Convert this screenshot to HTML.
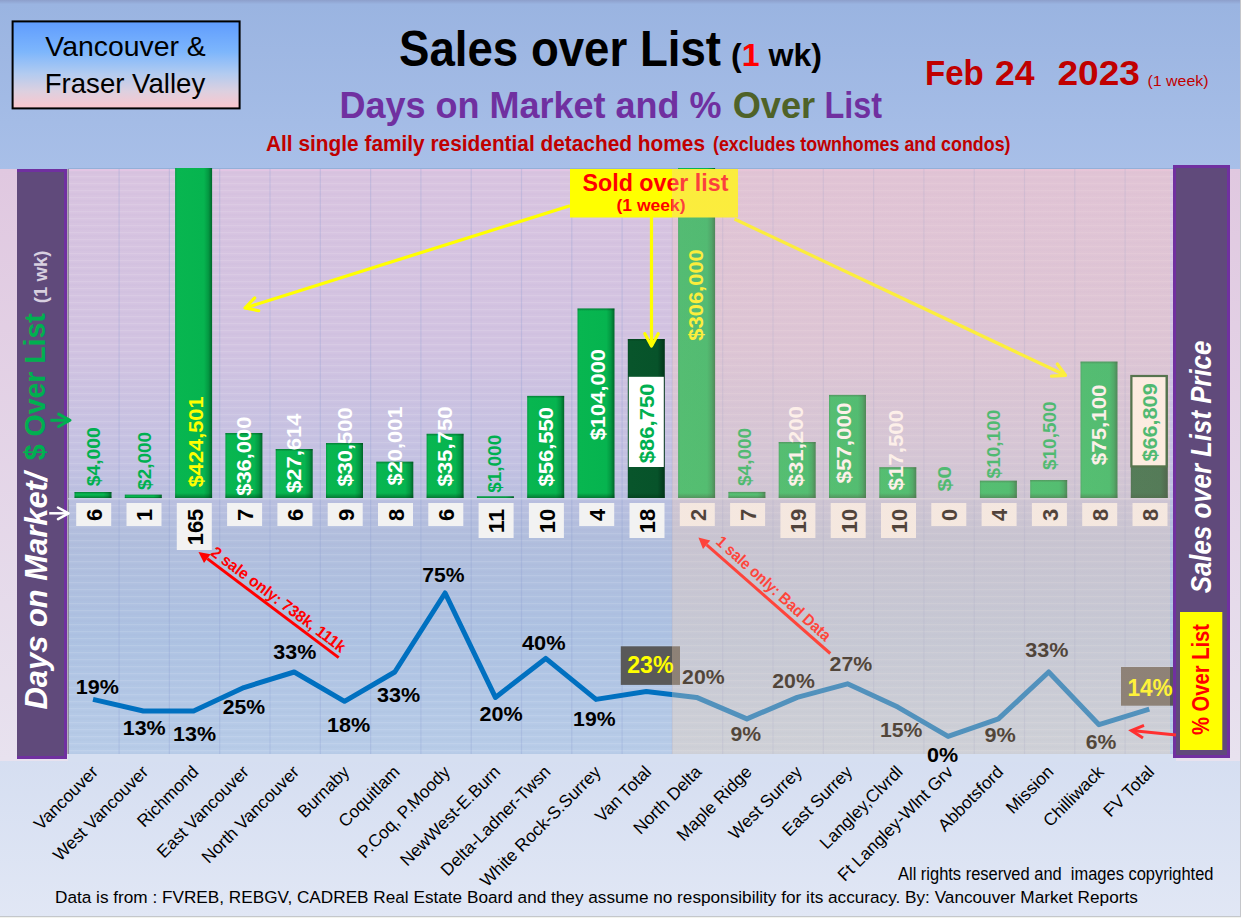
<!DOCTYPE html><html><head><meta charset="utf-8"><style>html,body{margin:0;padding:0;background:#d9e1f2;}svg{display:block;}text{font-family:"Liberation Sans",sans-serif;}</style></head><body>
<svg width="1241" height="918" viewBox="0 0 1241 918">
<defs>
<linearGradient id="hdr" x1="0" y1="0" x2="0" y2="1"><stop offset="0" stop-color="#8d9fcb"/><stop offset="0.025" stop-color="#9ab4e1"/><stop offset="1" stop-color="#a8bfe8"/></linearGradient>
<linearGradient id="box" x1="0" y1="0" x2="0" y2="1"><stop offset="0" stop-color="#5f9cfe"/><stop offset="0.35" stop-color="#7db6fc"/><stop offset="0.6" stop-color="#b2cbf0"/><stop offset="0.8" stop-color="#dcd0e0"/><stop offset="1" stop-color="#fcc6cc"/></linearGradient>
<linearGradient id="plot" x1="0" y1="0" x2="0" y2="1"><stop offset="0" stop-color="#d9c4e0"/><stop offset="0.3" stop-color="#d2c3e1"/><stop offset="0.5" stop-color="#c4c2e2"/><stop offset="0.63" stop-color="#b1bedd"/><stop offset="0.8" stop-color="#adc2e2"/><stop offset="1" stop-color="#b8cce8"/></linearGradient>
<linearGradient id="ovl" x1="0" y1="0" x2="0" y2="1"><stop offset="0" stop-color="rgb(242,196,190)"/><stop offset="1" stop-color="rgb(255,218,180)"/></linearGradient>
<linearGradient id="botg" x1="0" y1="0" x2="0" y2="1"><stop offset="0" stop-color="#d5def1"/><stop offset="1" stop-color="#e1e7f5"/></linearGradient>
<linearGradient id="outer" x1="0" y1="0" x2="0" y2="1"><stop offset="0" stop-color="#e0c8e0"/><stop offset="1" stop-color="#e8e2ef"/></linearGradient>
<linearGradient id="barg" x1="0" y1="0" x2="1" y2="0"><stop offset="0" stop-color="#069c44"/><stop offset="0.05" stop-color="#08b650"/><stop offset="0.78" stop-color="#06b44f"/><stop offset="0.9" stop-color="#049842"/><stop offset="1" stop-color="#00662a"/></linearGradient>
<linearGradient id="bardk" x1="0" y1="0" x2="1" y2="0"><stop offset="0" stop-color="#064a24"/><stop offset="0.05" stop-color="#08552b"/><stop offset="0.8" stop-color="#07532a"/><stop offset="1" stop-color="#02351a"/></linearGradient>
<linearGradient id="shb" x1="0" y1="0" x2="0" y2="1"><stop offset="0" stop-color="#003010" stop-opacity="0"/><stop offset="1" stop-color="#003010" stop-opacity="0.45"/></linearGradient>
<linearGradient id="sht" x1="0" y1="0" x2="0" y2="1"><stop offset="0" stop-color="#003010" stop-opacity="0.4"/><stop offset="1" stop-color="#003010" stop-opacity="0"/></linearGradient>
<pattern id="stripes" x="0" y="169" width="8" height="7" patternUnits="userSpaceOnUse"><rect x="0" y="0" width="8" height="1.2" fill="#ffffff" fill-opacity="0.11"/><rect x="0" y="3.5" width="8" height="1" fill="#604080" fill-opacity="0.04"/></pattern>
</defs>
<rect x="0" y="0" width="1241" height="918" fill="#d9e1f2"/>
<rect x="0" y="754" width="1241" height="164" fill="url(#botg)"/>
<rect x="0" y="168" width="1241" height="593" fill="url(#outer)"/>
<rect x="0" y="0" width="1241" height="169" fill="url(#hdr)"/>
<rect x="68" y="169" width="1108" height="585" fill="url(#plot)"/>
<rect x="68" y="169" width="1108" height="585" fill="url(#stripes)"/>
<rect x="68" y="168" width="1108" height="1" fill="#94b0d8"/>
<rect x="68" y="169.4" width="1108" height="1.4" fill="#e8c6e6" fill-opacity="0.8"/>
<rect x="118.5" y="169" width="1.2" height="585" fill="#8a9ad0" fill-opacity="0.28"/>
<rect x="168.8" y="169" width="1.2" height="585" fill="#8a9ad0" fill-opacity="0.28"/>
<rect x="219.1" y="169" width="1.2" height="585" fill="#8a9ad0" fill-opacity="0.28"/>
<rect x="269.4" y="169" width="1.2" height="585" fill="#8a9ad0" fill-opacity="0.28"/>
<rect x="319.7" y="169" width="1.2" height="585" fill="#8a9ad0" fill-opacity="0.28"/>
<rect x="370.0" y="169" width="1.2" height="585" fill="#8a9ad0" fill-opacity="0.28"/>
<rect x="420.3" y="169" width="1.2" height="585" fill="#8a9ad0" fill-opacity="0.28"/>
<rect x="470.6" y="169" width="1.2" height="585" fill="#8a9ad0" fill-opacity="0.28"/>
<rect x="520.9" y="169" width="1.2" height="585" fill="#8a9ad0" fill-opacity="0.28"/>
<rect x="571.2" y="169" width="1.2" height="585" fill="#8a9ad0" fill-opacity="0.28"/>
<rect x="621.5" y="169" width="1.2" height="585" fill="#8a9ad0" fill-opacity="0.28"/>
<rect x="671.8" y="169" width="1.2" height="585" fill="#8a9ad0" fill-opacity="0.28"/>
<rect x="722.1" y="169" width="1.2" height="585" fill="#8a9ad0" fill-opacity="0.28"/>
<rect x="772.4" y="169" width="1.2" height="585" fill="#8a9ad0" fill-opacity="0.28"/>
<rect x="822.7" y="169" width="1.2" height="585" fill="#8a9ad0" fill-opacity="0.28"/>
<rect x="873.0" y="169" width="1.2" height="585" fill="#8a9ad0" fill-opacity="0.28"/>
<rect x="923.3" y="169" width="1.2" height="585" fill="#8a9ad0" fill-opacity="0.28"/>
<rect x="973.6" y="169" width="1.2" height="585" fill="#8a9ad0" fill-opacity="0.28"/>
<rect x="1023.9" y="169" width="1.2" height="585" fill="#8a9ad0" fill-opacity="0.28"/>
<rect x="1074.2" y="169" width="1.2" height="585" fill="#8a9ad0" fill-opacity="0.28"/>
<rect x="1124.5" y="169" width="1.2" height="585" fill="#8a9ad0" fill-opacity="0.28"/>
<rect x="67.5" y="169" width="1.3" height="585" fill="#7f7f8a"/>
<rect x="68" y="498.0" width="1108" height="1.5" fill="#d0d4e8" fill-opacity="0.7"/>
<rect x="74.5" y="492" width="37" height="6.0" fill="url(#barg)"/>
<rect x="74.5" y="492" width="37" height="2.0" fill="url(#sht)"/>
<rect x="74.5" y="495.0" width="37" height="3.0" fill="url(#shb)"/>
<rect x="124.8" y="494.7" width="37" height="3.3" fill="url(#barg)"/>
<rect x="124.8" y="494.7" width="37" height="1.1" fill="url(#sht)"/>
<rect x="124.8" y="496.4" width="37" height="1.7" fill="url(#shb)"/>
<rect x="175.1" y="168" width="37" height="330.0" fill="url(#barg)"/>
<rect x="175.1" y="493.0" width="37" height="5.0" fill="url(#shb)"/>
<rect x="225.4" y="433" width="37" height="65.0" fill="url(#barg)"/>
<rect x="225.4" y="433" width="37" height="2.5" fill="url(#sht)"/>
<rect x="225.4" y="493.0" width="37" height="5.0" fill="url(#shb)"/>
<rect x="275.7" y="449" width="37" height="49.0" fill="url(#barg)"/>
<rect x="275.7" y="449" width="37" height="2.5" fill="url(#sht)"/>
<rect x="275.7" y="493.0" width="37" height="5.0" fill="url(#shb)"/>
<rect x="326.0" y="443" width="37" height="55.0" fill="url(#barg)"/>
<rect x="326.0" y="443" width="37" height="2.5" fill="url(#sht)"/>
<rect x="326.0" y="493.0" width="37" height="5.0" fill="url(#shb)"/>
<rect x="376.3" y="461.7" width="37" height="36.3" fill="url(#barg)"/>
<rect x="376.3" y="461.7" width="37" height="2.5" fill="url(#sht)"/>
<rect x="376.3" y="493.0" width="37" height="5.0" fill="url(#shb)"/>
<rect x="426.6" y="433.8" width="37" height="64.2" fill="url(#barg)"/>
<rect x="426.6" y="433.8" width="37" height="2.5" fill="url(#sht)"/>
<rect x="426.6" y="493.0" width="37" height="5.0" fill="url(#shb)"/>
<rect x="476.9" y="496.3" width="37" height="1.7" fill="url(#barg)"/>
<rect x="476.9" y="496.3" width="37" height="0.6" fill="url(#sht)"/>
<rect x="476.9" y="497.1" width="37" height="0.8" fill="url(#shb)"/>
<rect x="527.2" y="395.9" width="37" height="102.1" fill="url(#barg)"/>
<rect x="527.2" y="395.9" width="37" height="2.5" fill="url(#sht)"/>
<rect x="527.2" y="493.0" width="37" height="5.0" fill="url(#shb)"/>
<rect x="577.5" y="308.5" width="37" height="189.5" fill="url(#barg)"/>
<rect x="577.5" y="308.5" width="37" height="2.5" fill="url(#sht)"/>
<rect x="577.5" y="493.0" width="37" height="5.0" fill="url(#shb)"/>
<rect x="627.8" y="339" width="37" height="159.0" fill="url(#bardk)"/>
<rect x="627.8" y="339" width="37" height="2.5" fill="url(#sht)"/>
<rect x="627.8" y="493.0" width="37" height="5.0" fill="url(#shb)"/>
<rect x="678.1" y="168" width="37" height="330.0" fill="url(#barg)"/>
<rect x="678.1" y="493.0" width="37" height="5.0" fill="url(#shb)"/>
<rect x="728.4" y="491.9" width="37" height="6.1" fill="url(#barg)"/>
<rect x="728.4" y="491.9" width="37" height="2.0" fill="url(#sht)"/>
<rect x="728.4" y="494.9" width="37" height="3.1" fill="url(#shb)"/>
<rect x="778.7" y="442" width="37" height="56.0" fill="url(#barg)"/>
<rect x="778.7" y="442" width="37" height="2.5" fill="url(#sht)"/>
<rect x="778.7" y="493.0" width="37" height="5.0" fill="url(#shb)"/>
<rect x="829.0" y="394.9" width="37" height="103.1" fill="url(#barg)"/>
<rect x="829.0" y="394.9" width="37" height="2.5" fill="url(#sht)"/>
<rect x="829.0" y="493.0" width="37" height="5.0" fill="url(#shb)"/>
<rect x="879.3" y="467.2" width="37" height="30.8" fill="url(#barg)"/>
<rect x="879.3" y="467.2" width="37" height="2.5" fill="url(#sht)"/>
<rect x="879.3" y="493.0" width="37" height="5.0" fill="url(#shb)"/>
<rect x="979.9" y="480.7" width="37" height="17.3" fill="url(#barg)"/>
<rect x="979.9" y="480.7" width="37" height="2.5" fill="url(#sht)"/>
<rect x="979.9" y="493.0" width="37" height="5.0" fill="url(#shb)"/>
<rect x="1030.2" y="480" width="37" height="18.0" fill="url(#barg)"/>
<rect x="1030.2" y="480" width="37" height="2.5" fill="url(#sht)"/>
<rect x="1030.2" y="493.0" width="37" height="5.0" fill="url(#shb)"/>
<rect x="1080.5" y="361.6" width="37" height="136.4" fill="url(#barg)"/>
<rect x="1080.5" y="361.6" width="37" height="2.5" fill="url(#sht)"/>
<rect x="1080.5" y="493.0" width="37" height="5.0" fill="url(#shb)"/>
<rect x="1130.8" y="375.2" width="37" height="122.8" fill="url(#bardk)"/>
<rect x="1130.8" y="375.2" width="37" height="2.5" fill="url(#sht)"/>
<rect x="1130.8" y="493.0" width="37" height="5.0" fill="url(#shb)"/>
<rect x="628.8" y="376.8" width="35" height="90.2" fill="#ffffff"/>
<rect x="1131.4" y="376" width="35.2" height="90.4" fill="#fffaf2" stroke="#0a4a1a" stroke-width="2.2"/>
<text transform="translate(99.7,486.2) rotate(-90)" font-size="18.8" font-weight="bold" font-style="normal" fill="#00b050" textLength="58.9" lengthAdjust="spacingAndGlyphs">$4,000</text>
<text transform="translate(150.8,489.9) rotate(-90)" font-size="18.8" font-weight="bold" font-style="normal" fill="#00b050" textLength="57.9" lengthAdjust="spacingAndGlyphs">$2,000</text>
<text transform="translate(202.6,487.3) rotate(-90)" font-size="20.3" font-weight="bold" font-style="normal" fill="#ffff00" textLength="90.8" lengthAdjust="spacingAndGlyphs">$424,501</text>
<text transform="translate(251.1,495.8) rotate(-90)" font-size="20.3" font-weight="bold" font-style="normal" fill="#ffffff" textLength="79.2" lengthAdjust="spacingAndGlyphs">$36,000</text>
<text transform="translate(301.3,493.0) rotate(-90)" font-size="20.3" font-weight="bold" font-style="normal" fill="#ffffff" textLength="79.5" lengthAdjust="spacingAndGlyphs">$27,614</text>
<text transform="translate(351.7,486.6) rotate(-90)" font-size="20.3" font-weight="bold" font-style="normal" fill="#ffffff" textLength="79.2" lengthAdjust="spacingAndGlyphs">$30,500</text>
<text transform="translate(402.0,485.5) rotate(-90)" font-size="20.3" font-weight="bold" font-style="normal" fill="#ffffff" textLength="79.1" lengthAdjust="spacingAndGlyphs">$20,001</text>
<text transform="translate(452.4,486.6) rotate(-90)" font-size="20.3" font-weight="bold" font-style="normal" fill="#ffffff" textLength="80.2" lengthAdjust="spacingAndGlyphs">$35,750</text>
<text transform="translate(501.3,492.8) rotate(-90)" font-size="18.8" font-weight="bold" font-style="normal" fill="#00b050" textLength="58.0" lengthAdjust="spacingAndGlyphs">$1,000</text>
<text transform="translate(553.1,486.6) rotate(-90)" font-size="20.3" font-weight="bold" font-style="normal" fill="#ffffff" textLength="79.6" lengthAdjust="spacingAndGlyphs">$56,550</text>
<text transform="translate(605.0,440.3) rotate(-90)" font-size="20.3" font-weight="bold" font-style="normal" fill="#ffffff" textLength="91.3" lengthAdjust="spacingAndGlyphs">$104,000</text>
<text transform="translate(653.8,463.2) rotate(-90)" font-size="20.3" font-weight="bold" font-style="normal" fill="#00b050" textLength="79.7" lengthAdjust="spacingAndGlyphs">$86,750</text>
<text transform="translate(703.4,340.7) rotate(-90)" font-size="20.3" font-weight="bold" font-style="normal" fill="#ffff00" textLength="91.5" lengthAdjust="spacingAndGlyphs">$306,000</text>
<text transform="translate(751.2,486.0) rotate(-90)" font-size="18.8" font-weight="bold" font-style="normal" fill="#00b050" textLength="58.1" lengthAdjust="spacingAndGlyphs">$4,000</text>
<text transform="translate(802.9,486.5) rotate(-90)" font-size="20.3" font-weight="bold" font-style="normal" fill="#ffffff" textLength="80.5" lengthAdjust="spacingAndGlyphs">$31,200</text>
<text transform="translate(851.4,483.4) rotate(-90)" font-size="20.3" font-weight="bold" font-style="normal" fill="#ffffff" textLength="80.7" lengthAdjust="spacingAndGlyphs">$57,000</text>
<text transform="translate(903.2,490.4) rotate(-90)" font-size="20.3" font-weight="bold" font-style="normal" fill="#ffffff" textLength="80.5" lengthAdjust="spacingAndGlyphs">$17,500</text>
<text transform="translate(951.2,491.5) rotate(-90)" font-size="18.8" font-weight="bold" font-style="normal" fill="#00b050" textLength="25.5" lengthAdjust="spacingAndGlyphs">$0</text>
<text transform="translate(1000.4,478.4) rotate(-90)" font-size="18.8" font-weight="bold" font-style="normal" fill="#00b050" textLength="68.6" lengthAdjust="spacingAndGlyphs">$10,100</text>
<text transform="translate(1056.1,470.0) rotate(-90)" font-size="18.8" font-weight="bold" font-style="normal" fill="#00b050" textLength="68.6" lengthAdjust="spacingAndGlyphs">$10,500</text>
<text transform="translate(1105.7,465.2) rotate(-90)" font-size="20.3" font-weight="bold" font-style="normal" fill="#ffffff" textLength="80.7" lengthAdjust="spacingAndGlyphs">$75,100</text>
<text transform="translate(1157.0,461.6) rotate(-90)" font-size="20.3" font-weight="bold" font-style="normal" fill="#00b050" textLength="78.3" lengthAdjust="spacingAndGlyphs">$66,809</text>
<rect x="76.2" y="503" width="35" height="23" fill="#f2f2f2"/>
<text transform="translate(102.0,521.1) rotate(-90)" font-size="21.2" font-weight="bold" font-style="normal" fill="#000000" textLength="12.2" lengthAdjust="spacingAndGlyphs">6</text>
<rect x="126.5" y="503" width="35" height="23" fill="#f2f2f2"/>
<text transform="translate(152.3,521.1) rotate(-90)" font-size="21.2" font-weight="bold" font-style="normal" fill="#000000" textLength="12.2" lengthAdjust="spacingAndGlyphs">1</text>
<rect x="176.8" y="503" width="35" height="47" fill="#f2f2f2"/>
<text transform="translate(202.6,545.3) rotate(-90)" font-size="21.2" font-weight="bold" font-style="normal" fill="#000000" textLength="36.6" lengthAdjust="spacingAndGlyphs">165</text>
<rect x="227.1" y="503" width="35" height="23" fill="#f2f2f2"/>
<text transform="translate(252.9,521.1) rotate(-90)" font-size="21.2" font-weight="bold" font-style="normal" fill="#000000" textLength="12.2" lengthAdjust="spacingAndGlyphs">7</text>
<rect x="277.4" y="503" width="35" height="23" fill="#f2f2f2"/>
<text transform="translate(303.2,521.1) rotate(-90)" font-size="21.2" font-weight="bold" font-style="normal" fill="#000000" textLength="12.2" lengthAdjust="spacingAndGlyphs">6</text>
<rect x="327.7" y="503" width="35" height="23" fill="#f2f2f2"/>
<text transform="translate(353.5,521.1) rotate(-90)" font-size="21.2" font-weight="bold" font-style="normal" fill="#000000" textLength="12.2" lengthAdjust="spacingAndGlyphs">9</text>
<rect x="378.0" y="503" width="35" height="23" fill="#f2f2f2"/>
<text transform="translate(403.8,521.1) rotate(-90)" font-size="21.2" font-weight="bold" font-style="normal" fill="#000000" textLength="12.2" lengthAdjust="spacingAndGlyphs">8</text>
<rect x="428.3" y="503" width="35" height="23" fill="#f2f2f2"/>
<text transform="translate(454.1,521.1) rotate(-90)" font-size="21.2" font-weight="bold" font-style="normal" fill="#000000" textLength="12.2" lengthAdjust="spacingAndGlyphs">6</text>
<rect x="478.6" y="503" width="35" height="35" fill="#f2f2f2"/>
<text transform="translate(504.4,533.2) rotate(-90)" font-size="21.2" font-weight="bold" font-style="normal" fill="#000000" textLength="24.4" lengthAdjust="spacingAndGlyphs">11</text>
<rect x="528.9" y="503" width="35" height="35" fill="#f2f2f2"/>
<text transform="translate(554.7,533.2) rotate(-90)" font-size="21.2" font-weight="bold" font-style="normal" fill="#000000" textLength="24.4" lengthAdjust="spacingAndGlyphs">10</text>
<rect x="579.2" y="503" width="35" height="23" fill="#f2f2f2"/>
<text transform="translate(605.0,521.1) rotate(-90)" font-size="21.2" font-weight="bold" font-style="normal" fill="#000000" textLength="12.2" lengthAdjust="spacingAndGlyphs">4</text>
<rect x="629.5" y="503" width="35" height="35" fill="#f2f2f2"/>
<text transform="translate(655.3,533.2) rotate(-90)" font-size="21.2" font-weight="bold" font-style="normal" fill="#000000" textLength="24.4" lengthAdjust="spacingAndGlyphs">18</text>
<rect x="679.8" y="503" width="35" height="23" fill="#f2f2f2"/>
<text transform="translate(705.6,521.1) rotate(-90)" font-size="21.2" font-weight="bold" font-style="normal" fill="#000000" textLength="12.2" lengthAdjust="spacingAndGlyphs">2</text>
<rect x="730.1" y="503" width="35" height="23" fill="#f2f2f2"/>
<text transform="translate(755.9,521.1) rotate(-90)" font-size="21.2" font-weight="bold" font-style="normal" fill="#000000" textLength="12.2" lengthAdjust="spacingAndGlyphs">7</text>
<rect x="780.4" y="503" width="35" height="35" fill="#f2f2f2"/>
<text transform="translate(806.2,533.2) rotate(-90)" font-size="21.2" font-weight="bold" font-style="normal" fill="#000000" textLength="24.4" lengthAdjust="spacingAndGlyphs">19</text>
<rect x="830.7" y="503" width="35" height="35" fill="#f2f2f2"/>
<text transform="translate(856.5,533.2) rotate(-90)" font-size="21.2" font-weight="bold" font-style="normal" fill="#000000" textLength="24.4" lengthAdjust="spacingAndGlyphs">10</text>
<rect x="881.0" y="503" width="35" height="35" fill="#f2f2f2"/>
<text transform="translate(906.8,533.2) rotate(-90)" font-size="21.2" font-weight="bold" font-style="normal" fill="#000000" textLength="24.4" lengthAdjust="spacingAndGlyphs">10</text>
<rect x="931.3" y="503" width="35" height="23" fill="#f2f2f2"/>
<text transform="translate(957.1,521.1) rotate(-90)" font-size="21.2" font-weight="bold" font-style="normal" fill="#000000" textLength="12.2" lengthAdjust="spacingAndGlyphs">0</text>
<rect x="981.6" y="503" width="35" height="23" fill="#f2f2f2"/>
<text transform="translate(1007.4,521.1) rotate(-90)" font-size="21.2" font-weight="bold" font-style="normal" fill="#000000" textLength="12.2" lengthAdjust="spacingAndGlyphs">4</text>
<rect x="1031.9" y="503" width="35" height="23" fill="#f2f2f2"/>
<text transform="translate(1057.7,521.1) rotate(-90)" font-size="21.2" font-weight="bold" font-style="normal" fill="#000000" textLength="12.2" lengthAdjust="spacingAndGlyphs">3</text>
<rect x="1082.2" y="503" width="35" height="23" fill="#f2f2f2"/>
<text transform="translate(1108.0,521.1) rotate(-90)" font-size="21.2" font-weight="bold" font-style="normal" fill="#000000" textLength="12.2" lengthAdjust="spacingAndGlyphs">8</text>
<rect x="1132.5" y="503" width="35" height="23" fill="#f2f2f2"/>
<text transform="translate(1158.3,521.1) rotate(-90)" font-size="21.2" font-weight="bold" font-style="normal" fill="#000000" textLength="12.2" lengthAdjust="spacingAndGlyphs">8</text>
<polyline points="93.0,699.4 143.3,711.0 193.6,711.0 243.9,687.6 294.2,672.0 344.5,701.3 394.8,672.0 445.1,593.0 495.4,697.4 545.7,658.4 596.0,699.4 646.3,691.5 696.6,697.4 746.9,718.9 797.2,697.4 847.5,683.8 897.8,707.1 948.1,736.4 998.4,718.9 1048.7,672.0 1099.0,724.7 1149.3,709.1" fill="none" stroke="#0070c0" stroke-width="5" stroke-linejoin="round" stroke-linecap="butt"/>
<text x="75.7" y="693.8" font-size="20.6" font-weight="bold" fill="#000" textLength="43.1" lengthAdjust="spacingAndGlyphs">19%</text>
<text x="122.7" y="735.3" font-size="20.6" font-weight="bold" fill="#000" textLength="43.0" lengthAdjust="spacingAndGlyphs">13%</text>
<text x="173.0" y="740.8" font-size="20.6" font-weight="bold" fill="#000" textLength="43.0" lengthAdjust="spacingAndGlyphs">13%</text>
<text x="222.7" y="714.3" font-size="20.6" font-weight="bold" fill="#000" textLength="42.4" lengthAdjust="spacingAndGlyphs">25%</text>
<text x="273.3" y="659.2" font-size="20.6" font-weight="bold" fill="#000" textLength="43.0" lengthAdjust="spacingAndGlyphs">33%</text>
<text x="327.0" y="732.4" font-size="20.6" font-weight="bold" fill="#000" textLength="43.3" lengthAdjust="spacingAndGlyphs">18%</text>
<text x="377.0" y="701.7" font-size="20.6" font-weight="bold" fill="#000" textLength="43.2" lengthAdjust="spacingAndGlyphs">33%</text>
<text x="422.3" y="582.1" font-size="20.6" font-weight="bold" fill="#000" textLength="42.3" lengthAdjust="spacingAndGlyphs">75%</text>
<text x="479.4" y="720.5" font-size="20.6" font-weight="bold" fill="#000" textLength="43.2" lengthAdjust="spacingAndGlyphs">20%</text>
<text x="522.0" y="650.3" font-size="20.6" font-weight="bold" fill="#000" textLength="43.6" lengthAdjust="spacingAndGlyphs">40%</text>
<text x="573.1" y="726.3" font-size="20.6" font-weight="bold" fill="#000" textLength="42.4" lengthAdjust="spacingAndGlyphs">19%</text>
<text x="682.1" y="683.7" font-size="20.6" font-weight="bold" fill="#000" textLength="42.5" lengthAdjust="spacingAndGlyphs">20%</text>
<text x="730.5" y="741.0" font-size="20.6" font-weight="bold" fill="#000" textLength="30.6" lengthAdjust="spacingAndGlyphs">9%</text>
<text x="772.3" y="687.8" font-size="20.6" font-weight="bold" fill="#000" textLength="42.5" lengthAdjust="spacingAndGlyphs">20%</text>
<text x="829.6" y="670.9" font-size="20.6" font-weight="bold" fill="#000" textLength="42.7" lengthAdjust="spacingAndGlyphs">27%</text>
<text x="879.9" y="736.6" font-size="20.6" font-weight="bold" fill="#000" textLength="42.4" lengthAdjust="spacingAndGlyphs">15%</text>
<text x="984.5" y="742.1" font-size="20.6" font-weight="bold" fill="#000" textLength="31.3" lengthAdjust="spacingAndGlyphs">9%</text>
<text x="1025.3" y="657.0" font-size="20.6" font-weight="bold" fill="#000" textLength="43.2" lengthAdjust="spacingAndGlyphs">33%</text>
<text x="1085.7" y="748.8" font-size="20.6" font-weight="bold" fill="#000" textLength="30.6" lengthAdjust="spacingAndGlyphs">6%</text>
<rect x="620.8" y="646.3" width="59.2" height="38.6" fill="#595959"/>
<text x="627.2" y="673.3" font-size="23" font-weight="bold" fill="#ffff00" textLength="46.4" lengthAdjust="spacingAndGlyphs">23%</text>
<rect x="1121" y="667" width="55" height="38.7" fill="#595959"/>
<text x="1127.4" y="696" font-size="23" font-weight="bold" fill="#ffff00" textLength="45.2" lengthAdjust="spacingAndGlyphs">14%</text>
<line x1="338.7" y1="657.6" x2="207.3" y2="558.6" stroke="#ff0000" stroke-width="3"/><polygon points="198.5,552 210.6,554.2 204.0,563.0" fill="#ff0000"/>
<text transform="translate(209.7,554.4) rotate(37)" font-size="16" font-weight="bold" fill="#ff0000" textLength="164" lengthAdjust="spacingAndGlyphs">2 sale only: 738k, 111k</text>
<line x1="830.3" y1="653.5" x2="706.7" y2="544.8" stroke="#ff0000" stroke-width="3"/><polygon points="698.4,537.5 710.3,540.6 703.0,548.9" fill="#ff0000"/>
<text transform="translate(715,543) rotate(42)" font-size="16" font-weight="bold" fill="#ff0000" textLength="148" lengthAdjust="spacingAndGlyphs">1 sale only: Bad Data</text>
<line x1="570" y1="205.7" x2="245" y2="308" stroke="#ffff00" stroke-width="3.2"/><polyline points="254.7,297.9 245,308 258.7,310.7" fill="none" stroke="#ffff00" stroke-width="3.2" stroke-linejoin="round" stroke-linecap="round"/>
<line x1="651.5" y1="217" x2="651.5" y2="346" stroke="#ffff00" stroke-width="3.2"/><polyline points="644.8,333.7 651.5,346 658.2,333.7" fill="none" stroke="#ffff00" stroke-width="3.2" stroke-linejoin="round" stroke-linecap="round"/>
<line x1="734.5" y1="219" x2="1065.5" y2="375.3" stroke="#ffff00" stroke-width="3.2"/><polyline points="1051.5,376.1 1065.5,375.3 1057.3,364.0" fill="none" stroke="#ffff00" stroke-width="3.2" stroke-linejoin="round" stroke-linecap="round"/>
<rect x="570" y="169" width="168" height="48.5" fill="#ffff00"/>
<text x="582.6" y="190.6" font-size="23.5" font-weight="bold" fill="#ff0000" textLength="145.8" lengthAdjust="spacingAndGlyphs">Sold over list</text>
<text x="616.5" y="210.5" font-size="16" font-weight="bold" fill="#ff0000" textLength="69" lengthAdjust="spacingAndGlyphs">(1 week)</text>
<rect x="672" y="169" width="498" height="585" fill="url(#ovl)" fill-opacity="0.32"/>
<rect x="68" y="754" width="1108" height="8" fill="#d6dff1"/>
<text x="927.0" y="762.0" font-size="20.6" font-weight="bold" fill="#000" textLength="31.1" lengthAdjust="spacingAndGlyphs">0%</text>
<rect x="17" y="169" width="50" height="590" fill="#7030a0"/>
<rect x="17" y="172" width="47" height="584" fill="#604a7b"/>
<text transform="translate(47.0,709.5) rotate(-90)" font-size="31" font-weight="bold" font-style="italic" fill="#ffffff" textLength="237" lengthAdjust="spacingAndGlyphs">Days on Market/</text>
<text transform="translate(45.3,460.2) rotate(-90)" font-size="29.5" font-weight="bold" font-style="normal" fill="#00b050" textLength="147" lengthAdjust="spacingAndGlyphs">$ Over List</text>
<text transform="translate(46.5,303.2) rotate(-90)" font-size="19" font-weight="bold" font-style="normal" fill="#d8d0e0" textLength="52.6" lengthAdjust="spacingAndGlyphs">(1 wk)</text>
<line x1="50.4" y1="420.3" x2="70" y2="420.3" stroke="#00b050" stroke-width="3"/><polyline points="58.6,426.5 70,420.3 58.6,414.1" fill="none" stroke="#00b050" stroke-width="3" stroke-linejoin="round" stroke-linecap="round"/>
<line x1="49.2" y1="513.3" x2="68.5" y2="513.3" stroke="#ffffff" stroke-width="2.5"/><polyline points="58.0,519.1 68.5,513.3 58.0,507.5" fill="none" stroke="#ffffff" stroke-width="2.5" stroke-linejoin="round" stroke-linecap="round"/>
<rect x="1173" y="165" width="57" height="593" fill="#7030a0"/>
<rect x="1176" y="168" width="51" height="587" fill="#604a7b"/>
<text transform="translate(1211.2,593.2) rotate(-90)" font-size="30" font-weight="bold" font-style="italic" fill="#ffffff" textLength="252.5" lengthAdjust="spacingAndGlyphs">Sales over List Price</text>
<rect x="1180" y="612" width="42.3" height="138" fill="#ffff00"/>
<text transform="translate(1209.4,735.0) rotate(-90)" font-size="23.3" font-weight="bold" font-style="normal" fill="#ff0000" textLength="111" lengthAdjust="spacingAndGlyphs">% Over List</text>
<line x1="1176" y1="735" x2="1131.4" y2="730.6" stroke="#ff3030" stroke-width="3"/><polygon points="1131.4,730.6 1131.4,730.6 1131.4,730.6" fill="#ff3030"/>
<polyline points="1144,725.4 1131.4,730.6 1143,738" fill="none" stroke="#ff3030" stroke-width="3"/>
<rect x="12.6" y="21.4" width="227" height="87" fill="url(#box)" stroke="#000" stroke-width="2"/>
<text x="45.3" y="55.8" font-size="28" fill="#000" textLength="160.5" lengthAdjust="spacingAndGlyphs">Vancouver &amp;</text>
<text x="44.7" y="93" font-size="28" fill="#000" textLength="160.5" lengthAdjust="spacingAndGlyphs">Fraser Valley</text>
<text x="399" y="65.5" font-size="50.5" font-weight="bold" fill="#000" textLength="322" lengthAdjust="spacingAndGlyphs">Sales over List</text>
<text x="731" y="65.5" font-size="31" font-weight="bold" fill="#000" textLength="91" lengthAdjust="spacingAndGlyphs">(<tspan fill="#ff0000">1</tspan> wk)</text>
<text x="339.5" y="118" font-size="37" font-weight="bold" fill="#7030a0" textLength="382" lengthAdjust="spacingAndGlyphs">Days on Market and %</text>
<text x="732.7" y="118" font-size="37" font-weight="bold" fill="#4f6228" textLength="82.5" lengthAdjust="spacingAndGlyphs">Over</text>
<text x="824.5" y="118" font-size="37" font-weight="bold" fill="#7030a0" textLength="57.5" lengthAdjust="spacingAndGlyphs">List</text>
<text x="266" y="150.5" font-size="22" font-weight="bold" fill="#c00000" textLength="439" lengthAdjust="spacingAndGlyphs">All single family residential detached homes</text>
<text x="713" y="150.5" font-size="20.5" font-weight="bold" fill="#c00000" textLength="297.5" lengthAdjust="spacingAndGlyphs">(excludes townhomes and condos)</text>
<text x="925" y="84.8" font-size="34.3" font-weight="bold" fill="#c00000" textLength="58.7" lengthAdjust="spacingAndGlyphs">Feb</text>
<text x="995" y="84.8" font-size="34.3" font-weight="bold" fill="#c00000" textLength="39.7" lengthAdjust="spacingAndGlyphs">24</text>
<text x="1057.4" y="84.8" font-size="34.3" font-weight="bold" fill="#c00000" textLength="82.5" lengthAdjust="spacingAndGlyphs">2023</text>
<text x="1147.5" y="85.5" font-size="15.5" fill="#c00000" textLength="61" lengthAdjust="spacingAndGlyphs">(1 week)</text>
<text transform="translate(99.0,773) rotate(-45)" text-anchor="end" font-size="17.4" fill="#000">Vancouver</text>
<text transform="translate(149.3,773) rotate(-45)" text-anchor="end" font-size="17.4" fill="#000">West Vancouver</text>
<text transform="translate(199.6,773) rotate(-45)" text-anchor="end" font-size="17.4" fill="#000">Richmond</text>
<text transform="translate(249.9,773) rotate(-45)" text-anchor="end" font-size="17.4" fill="#000">East Vancouver</text>
<text transform="translate(300.2,773) rotate(-45)" text-anchor="end" font-size="17.4" fill="#000">North Vancouver</text>
<text transform="translate(350.5,773) rotate(-45)" text-anchor="end" font-size="17.4" fill="#000">Burnaby</text>
<text transform="translate(400.8,773) rotate(-45)" text-anchor="end" font-size="17.4" fill="#000">Coquitlam</text>
<text transform="translate(451.1,773) rotate(-45)" text-anchor="end" font-size="17.4" fill="#000">P.Coq, P.Moody</text>
<text transform="translate(501.4,773) rotate(-45)" text-anchor="end" font-size="17.4" fill="#000">NewWest-E.Burn</text>
<text transform="translate(551.7,773) rotate(-45)" text-anchor="end" font-size="17.4" fill="#000">Delta-Ladner-Twsn</text>
<text transform="translate(602.0,773) rotate(-45)" text-anchor="end" font-size="17.4" fill="#000">White Rock-S.Surrey</text>
<text transform="translate(652.3,773) rotate(-45)" text-anchor="end" font-size="17.4" fill="#000">Van Total</text>
<text transform="translate(702.6,773) rotate(-45)" text-anchor="end" font-size="17.4" fill="#000">North Delta</text>
<text transform="translate(752.9,773) rotate(-45)" text-anchor="end" font-size="17.4" fill="#000">Maple Ridge</text>
<text transform="translate(803.2,773) rotate(-45)" text-anchor="end" font-size="17.4" fill="#000">West Surrey</text>
<text transform="translate(853.5,773) rotate(-45)" text-anchor="end" font-size="17.4" fill="#000">East Surrey</text>
<text transform="translate(903.8,773) rotate(-45)" text-anchor="end" font-size="17.4" fill="#000">Langley,Clvrdl</text>
<text transform="translate(954.1,773) rotate(-45)" text-anchor="end" font-size="17.4" fill="#000">Ft Langley-Wlnt Grv</text>
<text transform="translate(1004.4,773) rotate(-45)" text-anchor="end" font-size="17.4" fill="#000">Abbotsford</text>
<text transform="translate(1054.7,773) rotate(-45)" text-anchor="end" font-size="17.4" fill="#000">Mission</text>
<text transform="translate(1105.0,773) rotate(-45)" text-anchor="end" font-size="17.4" fill="#000">Chilliwack</text>
<text transform="translate(1155.3,773) rotate(-45)" text-anchor="end" font-size="17.4" fill="#000">FV Total</text>
<text x="898" y="880" font-size="17.5" fill="#000" textLength="315.5" lengthAdjust="spacingAndGlyphs" xml:space="preserve">All rights reserved and  images copyrighted</text>
<text x="55" y="902.8" font-size="17.2" fill="#000" textLength="1082.8" lengthAdjust="spacingAndGlyphs">Data is from : FVREB, REBGV, CADREB Real Estate Board and they assume no responsibility for its accuracy. By: Vancouver Market Reports</text>
<rect x="0" y="916" width="1241" height="1" fill="#c4c7cb"/>
<rect x="0" y="917" width="1241" height="1" fill="#f2f3ee"/>
<rect x="1240" y="0" width="1" height="917" fill="#c4c6ca"/>
</svg></body></html>
